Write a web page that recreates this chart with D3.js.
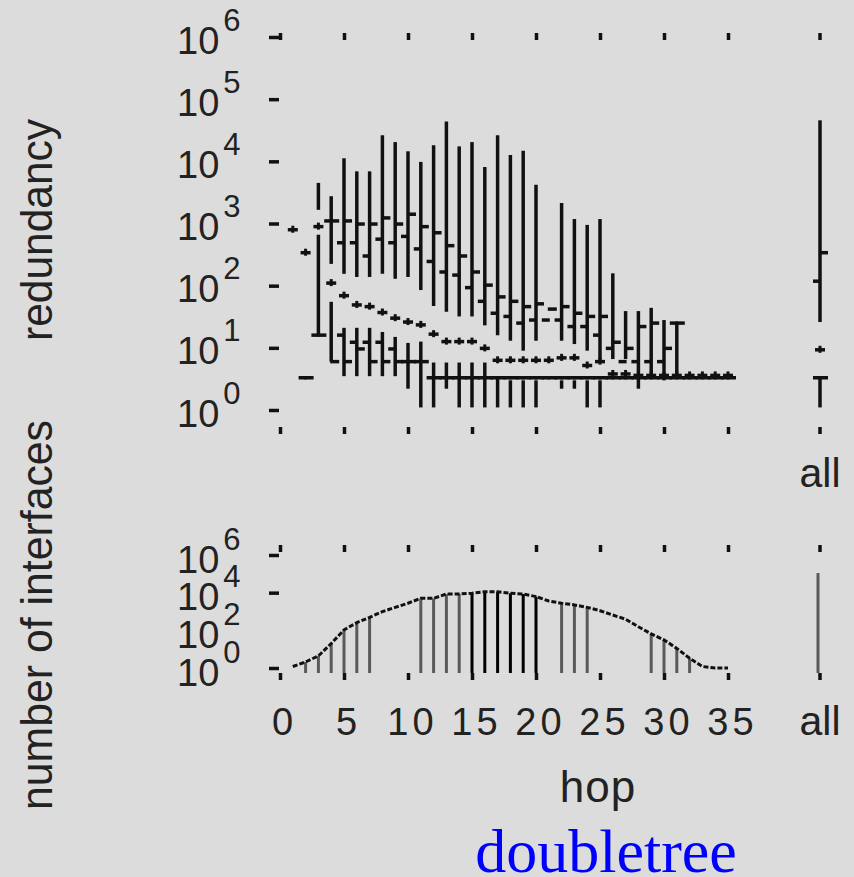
<!DOCTYPE html>
<html>
<head>
<meta charset="utf-8">
<title>doubletree</title>
<script src="https://d3js.org/d3.v7.min.js"></script>
<style>
  body { margin: 0; background: #dcdcdc; }
  svg text { font-family: "Liberation Sans", Arial, sans-serif; fill: #222; }
</style>
</head>
<body>
<script>
// hop index
var hops = [0,1,2,3,4,5,6,7,8,9,10,11,12,13,14,15,16,17,18,19,20,21,22,23,24,25,26,27,28,29,30,31,32,33,34,35];
var hopTicks = [0,5,10,15,20,25,30,35];
var redTicks = [1,10,100,1000,10000,100000,1000000];
var ifTicks = [1,100,10000,1000000];

// upper redundancy bars: top, bottom, right tick, left tick
var aHi = [null,null,null,4500,2750,11200,6900,6900,26300,20400,14500,9800,18200,43600,17400,20400,8100,26300,12600,14800,4200,null,2140,1180,950,1180,158,39,39,44,28,25,null,null,null,null];
var aLo = [null,null,null,1660,224,155,138,138,155,129,138,85,47,38,32,32,23,16,13,9,13,null,13,11.5,9,6,6.6,6.6,2.2,3.8,3,3.8,null,null,null,null];
var aRt = [null,null,null,null,1100,1100,980,980,1230,980,1410,890,710,440,300,166,102,66,56,46,51,42,46,36,32,32,12.3,9.8,22,25,9.8,25,null,null,null,null];
var aLt = [null,null,null,null,1100,490,490,300,560,490,620,390,245,166,148,93,56,36,32,25,28,28,28,22,22,16,9.8,6,6,6,6,25,null,null,null,null];

// lower redundancy bars
var bHi = [null,null,3.3,660,55,21,21,21,18,15,12,12.6,5.8,5.8,5.8,5.8,5.8,3.3,3,3,3,null,3,3,3,3,null,null,null,null,null,null,null,null,null,null];
var bLo = [null,null,3.3,16,6,3.5,3.5,3.5,3.5,3.5,2.2,1.1,1.1,2.2,1.1,1.1,1.1,1.1,1.1,1.1,1.1,null,2.2,2.2,1.1,1.1,null,null,null,null,null,null,null,null,null,null];
var bRt = [null,null,3.3,16,6,6,9.6,6,6,6,6,6,3.3,3.3,3.3,3.3,3.3,3.3,3.3,3.3,3.3,3.3,3.3,3.3,3.3,3.3,3.3,3.3,3.3,3.3,3.3,3.3,3.3,3.3,3.3,3.3];
var bLt = [null,null,3.3,16,null,16,12.3,12.3,12.3,9.6,6,6,3.3,3.3,3.3,3.3,3.3,3.3,3.3,3.3,3.3,3.3,3.3,3.3,3.3,3.3,3.3,3.3,3.3,3.3,3.3,3.3,3.3,3.3,3.3,3.3];

// point markers
var cVal = [null,794,339,891,110,69,49,46,37,30,26,23.4,16.6,12.6,12.6,12.6,9.8,6.3,6.3,6.3,6.3,6.3,6.9,6.9,5.2,6,3.8,3.8,3.6,3.6,3.6,3.6,3.6,3.6,3.6,3.6];

// "all" column: top, bottom, right tick, left tick
var allA = [45700, 26, 339, 118];
var allB = [3.3, 1.1, 3.3, 3.3];
var allC = 9.3;

// number of interfaces per hop
var ifaces = [null,1.2,2.1,4.4,20,105,257,490,977,1660,2750,5000,5000,8500,8500,9300,11200,11200,9300,8500,6200,3600,2750,2240,1660,1100,650,390,155,65,31,11,3.3,1.2,1,1];
var ifaceBarHops = [2,3,4,5,6,7,11,12,13,14,15,16,17,18,19,20,22,23,24,29,30,31,32];
var allIfaces = 110000;

var svg = d3.select('body').append('svg')
  .attr('width', 854).attr('height', 877);

var x = d3.scaleLinear().domain([0, 35]).range([280, 728]);
var xAll = 820;
var yTop = d3.scaleLog().domain([1, 1e6]).range([410, 37]);
var yBot = d3.scaleLog().domain([1, 1e6]).range([668, 555]);

var ink = '#111';
var sw = 3.5;

function styleAxis(g) {
  g.select('.domain').remove();
  g.selectAll('.tick line').attr('stroke', ink).attr('stroke-width', sw);
  g.attr('font-family', null).attr('font-size', 38);
}

function logLabels(g, off) {
  g.selectAll('.tick text').each(function(d) {
    var t = d3.select(this).text(null)
      .attr('x', -102).attr('dy', null).attr('y', off)
      .attr('text-anchor', 'start').attr('fill', '#222');
    t.append('tspan').text('10');
    t.append('tspan').attr('dx', 4).attr('dy', -23).attr('font-size', 31)
      .text(Math.round(Math.log10(d)));
  });
}

// ---- top panel axes
svg.append('g').attr('transform', 'translate(279,0)')
  .call(d3.axisLeft(yTop).tickValues(redTicks).tickSize(10).tickFormat(d => d))
  .call(styleAxis).call(g => logLabels(g, 16));

svg.append('g').attr('transform', 'translate(0,40)')
  .call(d3.axisTop(x).tickValues(hopTicks).tickSize(7).tickFormat(''))
  .call(styleAxis);
svg.append('g').attr('transform', 'translate(0,427)')
  .call(d3.axisBottom(x).tickValues(hopTicks).tickSize(7).tickFormat(''))
  .call(styleAxis);

// ---- bottom panel axes
svg.append('g').attr('transform', 'translate(279,0)')
  .call(d3.axisLeft(yBot).tickValues(ifTicks).tickSize(10).tickFormat(d => d))
  .call(styleAxis).call(g => logLabels(g, 17))
  .call(g => g.selectAll('.tick').filter(d => d === 100).select('line').remove());

svg.append('g').attr('transform', 'translate(0,552)')
  .call(d3.axisTop(x).tickValues(hopTicks).tickSize(7).tickFormat(''))
  .call(styleAxis);
svg.append('g').attr('transform', 'translate(0,673)')
  .call(d3.axisBottom(x).tickValues(hopTicks).tickSize(7).tickFormat(d => d))
  .call(styleAxis)
  .call(g => g.selectAll('.tick text').attr('y', 62).attr('dy', null).attr('dx', 4)
    .attr('fill', '#222').attr('letter-spacing', 4));

// "all" column ticks and labels
[[33, 40], [427, 434], [545, 552], [673, 680]].forEach(function(p) {
  svg.append('line').attr('x1', xAll).attr('x2', xAll).attr('y1', p[0]).attr('y2', p[1])
    .attr('stroke', ink).attr('stroke-width', sw);
});
svg.append('text').attr('x', xAll).attr('y', 487).attr('text-anchor', 'middle')
  .attr('font-size', 41).text('all');
svg.append('text').attr('x', xAll).attr('y', 735).attr('text-anchor', 'middle')
  .attr('font-size', 41).text('all');

// ---- top panel marks
var rowsA = hops.map((h, i) => ({x: x(h), hi: aHi[i], lo: aLo[i], rt: aRt[i], lt: aLt[i]}));
rowsA.push({x: xAll, hi: allA[0], lo: allA[1], rt: allA[2], lt: allA[3]});
var rowsB = hops.map((h, i) => ({x: x(h), hi: bHi[i], lo: bLo[i], rt: bRt[i], lt: bLt[i]}));
rowsB.push({x: xAll, hi: allB[0], lo: allB[1], rt: allB[2], lt: allB[3]});
var rowsC = hops.map((h, i) => ({x: x(h), v: cVal[i]}));
rowsC.push({x: xAll, v: allC});

var marks = svg.append('g').attr('stroke', ink).attr('stroke-width', sw);

function bars(rows) {
  marks.selectAll(null).data(rows.filter(d => d.hi != null && d.hi !== d.lo)).join('line')
    .attr('x1', d => d.x).attr('x2', d => d.x)
    .attr('y1', d => yTop(d.hi)).attr('y2', d => yTop(d.lo));
  marks.selectAll(null).data(rows.filter(d => d.rt != null)).join('line')
    .attr('x1', d => d.x - 1).attr('x2', d => d.x + 8)
    .attr('y1', d => yTop(d.rt)).attr('y2', d => yTop(d.rt));
  marks.selectAll(null).data(rows.filter(d => d.lt != null)).join('line')
    .attr('x1', d => d.x - 7).attr('x2', d => d.x + 1)
    .attr('y1', d => yTop(d.lt)).attr('y2', d => yTop(d.lt));
}
bars(rowsA);
bars(rowsB);

var pts = rowsC.filter(d => d.v != null);
marks.selectAll(null).data(pts).join('line')
  .attr('x1', d => d.x - 5).attr('x2', d => d.x + 5)
  .attr('y1', d => yTop(d.v)).attr('y2', d => yTop(d.v));
marks.selectAll(null).data(pts).join('line')
  .attr('stroke-width', 3)
  .attr('x1', d => d.x).attr('x2', d => d.x)
  .attr('y1', d => yTop(d.v) - 4).attr('y2', d => yTop(d.v) + 3);

// ---- bottom panel marks
var base = yBot(1) + 5;
svg.append('g').selectAll('line').data(ifaceBarHops).join('line')
  .attr('x1', h => x(h)).attr('x2', h => x(h))
  .attr('y1', base).attr('y2', h => yBot(ifaces[h]))
  .attr('stroke', h => (h >= 15 && h <= 20) ? '#000' : '#5a5a5a')
  .attr('stroke-width', 3);
svg.append('line').attr('x1', xAll - 2).attr('x2', xAll - 2)
  .attr('y1', base).attr('y2', yBot(allIfaces))
  .attr('stroke', '#5a5a5a').attr('stroke-width', 3);

var ifLine = d3.line()
  .defined(d => d.v != null)
  .x(d => x(d.h)).y(d => yBot(d.v));
svg.append('path')
  .datum(hops.map((h, i) => ({h: h, v: ifaces[i]})))
  .attr('d', ifLine)
  .attr('fill', 'none').attr('stroke', ink).attr('stroke-width', 3)
  .attr('stroke-dasharray', '5,2');

// ---- titles
svg.append('text').attr('transform', 'translate(52,230) rotate(-90)')
  .attr('text-anchor', 'middle').attr('font-size', 44)
  .attr('textLength', 222).attr('lengthAdjust', 'spacingAndGlyphs')
  .text('redundancy');
svg.append('text').attr('transform', 'translate(52,615) rotate(-90)')
  .attr('text-anchor', 'middle').attr('font-size', 44)
  .attr('textLength', 390).attr('lengthAdjust', 'spacingAndGlyphs')
  .text('number of interfaces');
svg.append('text').attr('x', 598).attr('y', 802).attr('text-anchor', 'middle')
  .attr('font-size', 44).attr('letter-spacing', 1).text('hop');
svg.append('text').attr('x', 606).attr('y', 872).attr('text-anchor', 'middle')
  .attr('font-size', 62).style('font-family', '"Liberation Serif", "Times New Roman", serif')
  .style('fill', '#0000ff').text('doubletree');
</script>
</body>
</html>
